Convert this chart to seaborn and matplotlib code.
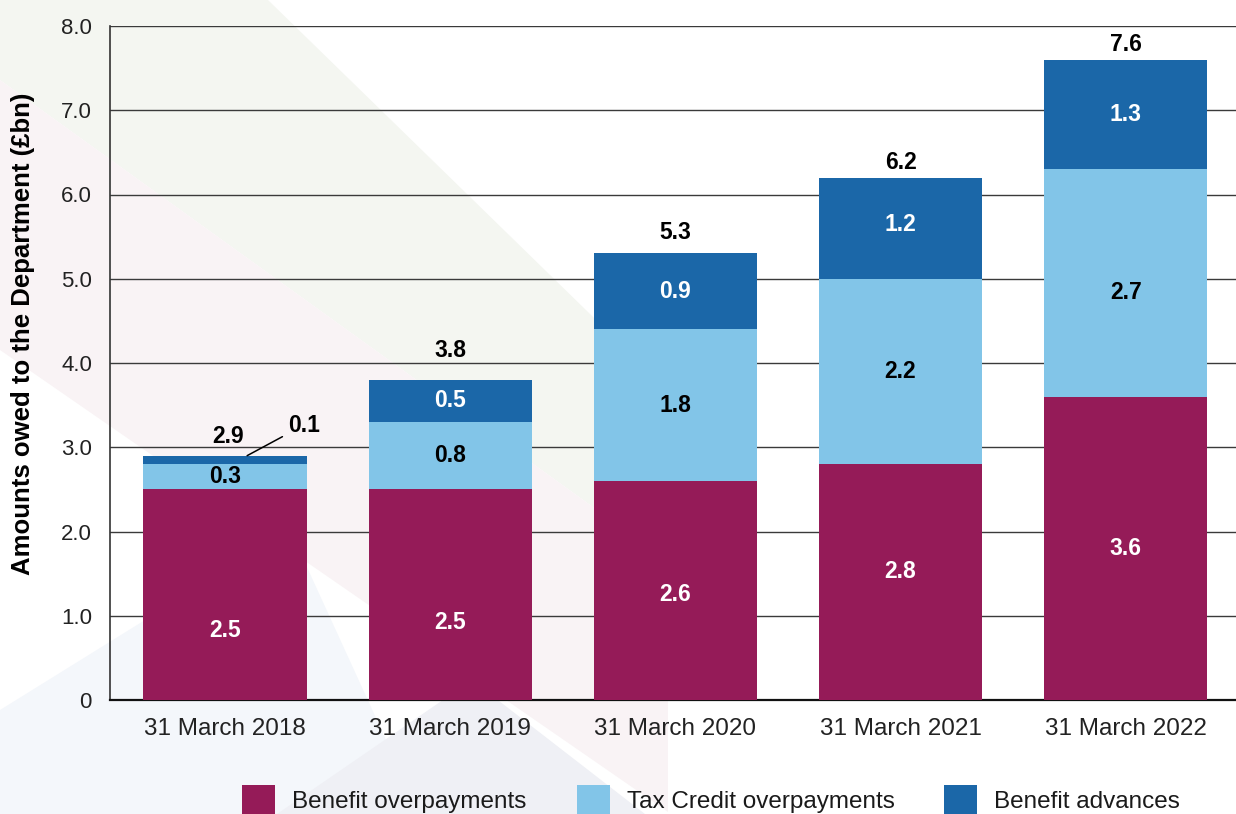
import matplotlib
matplotlib.use("Agg")
import matplotlib.pyplot as plt
from matplotlib.patches import Polygon, Patch
from matplotlib.transforms import Affine2D
import seaborn as sns
import pandas as pd
import numpy as np

# Amounts owed to the Department, £bn
dates = ["31 March 2018", "31 March 2019", "31 March 2020", "31 March 2021", "31 March 2022"]
benefit_overpayments = [2.5, 2.5, 2.6, 2.8, 3.6]
tax_credit_overpayments = [0.3, 0.8, 1.8, 2.2, 2.7]
benefit_advances = [0.1, 0.5, 0.9, 1.2, 1.3]
totals = [2.9, 3.8, 5.3, 6.2, 7.6]

series_names = ["Benefit overpayments", "Tax Credit overpayments", "Benefit advances"]
colors = ["#951b58", "#82c5e8", "#1b67a8"]
label_colors = ["white", "black", "white"]

# label placement tweaks, in pixels (positive = up)
total_offsets = [19, 29, 21, 15, 15]
segment_nudges = {(0, 0): -36, (1, 0): -28, (2, 0): -4, (3, 0): 11, (4, 1): -10, (3, 2): 4}

sns.set_theme(style="white")
FONT = ["Liberation Sans", "DejaVu Sans"]
plt.rcParams["font.family"] = FONT

W, H = 1236, 814
fig = plt.figure(figsize=(W / 100, H / 100), dpi=100)
fig.patch.set_facecolor("white")

# faint decorative background shapes (figure pixel coordinates, origin top-left)
px = Affine2D().scale(1 / W, -1 / H).translate(0, 1) + fig.transFigure
shapes = [
    ([(0, 0), (268, 0), (668, 390), (668, 561), (0, 80)], "#f4f6f1"),
    ([(0, 80), (668, 561), (668, 812), (0, 350)], "#f9f3f5"),
    ([(0, 710), (290, 530), (420, 814), (0, 814)], "#f4f7fb"),
    ([(277, 814), (472, 680), (645, 814)], "#eff0f5"),
]
for verts, c in shapes:
    fig.add_artist(Polygon(verts, closed=True, transform=px, facecolor=c,
                           edgecolor="none", zorder=-10))

ax = fig.add_axes([110 / W, 114 / H, (W - 110) / W, 674 / H])
ax.patch.set_alpha(0)

df = pd.DataFrame({
    "date": dates,
    "bo": benefit_overpayments,
    "tc": tax_credit_overpayments,
    "ba": benefit_advances,
})
df["lvl1"] = df["bo"]
df["lvl2"] = df["bo"] + df["tc"]
df["lvl3"] = df["lvl2"] + df["ba"]

bar_w = 0.725
for col, c in zip(["lvl3", "lvl2", "lvl1"], colors[::-1]):
    sns.barplot(data=df, x="date", y=col, color=c, width=bar_w, ax=ax,
                saturation=1, edgecolor="none", linewidth=0, zorder=3)

ax.set_ylim(0, 8)
ax.set_xlim(-0.511, 4.49)
ax.set_yticks(np.arange(0, 9, 1))
ax.set_yticklabels(["0"] + [f"{v:.1f}" for v in range(1, 9)], fontsize=16, color="#222222")
ax.tick_params(axis="x", labelsize=17.5, colors="#222222", pad=13, length=0)
ax.tick_params(axis="y", pad=13, length=0)
ax.set_xlabel("")
ax.set_ylabel("Amounts owed to the Department (£bn)", fontsize=18.5, fontweight="bold",
              color="black")
ax.yaxis.set_label_coords(-0.067, 0.543)
ax.yaxis.grid(True, color="#3a3a3a", linewidth=1.0, zorder=0)
ax.set_axisbelow(True)
for s in ["top", "right"]:
    ax.spines[s].set_visible(False)
ax.spines["left"].set_color("#333333")
ax.spines["left"].set_linewidth(1.2)
ax.spines["bottom"].set_color("#111111")
ax.spines["bottom"].set_linewidth(1.6)

# segment labels
fs = 16.5
for i in range(len(dates)):
    base = 0
    for j, v in enumerate([benefit_overpayments[i], tax_credit_overpayments[i], benefit_advances[i]]):
        if not (i == 0 and j == 2):
            ax.annotate(f"{v:.1f}", xy=(i, base + v / 2), xytext=(0, segment_nudges.get((i, j), 0)),
                        textcoords="offset pixels", ha="center", va="center",
                        fontsize=fs, fontweight="bold", color=label_colors[j], zorder=5)
        base += v
    dx = 3 if i == 0 else 0
    ax.annotate(f"{totals[i]:.1f}", xy=(i, totals[i]), xytext=(dx, total_offsets[i]),
                textcoords="offset pixels", ha="center", va="center",
                fontsize=fs, fontweight="bold", color="black", zorder=5)

# callout for the thin 2018 benefit advances segment
ax.annotate(f"{benefit_advances[0]:.1f}",
            xy=(0.098, totals[0]),
            xytext=(0.351, 3.264), ha="center", va="center",
            fontsize=fs, fontweight="bold", color="black",
            arrowprops=dict(arrowstyle="-", color="black", lw=1.1,
                            shrinkA=2, shrinkB=0), zorder=5)

# legend entries, each placed on its own
legend_x = [242, 577, 944]
for name, c, lx in zip(series_names, colors, legend_x):
    leg = fig.legend([Patch(facecolor=c, edgecolor="none")], [name], loc="center left",
                     bbox_to_anchor=(lx / W, 1 - 800 / H), frameon=False, fontsize=17.5,
                     handlelength=1.36, handleheight=1.56, handletextpad=0.7,
                     borderpad=0, borderaxespad=0)
    for t in leg.get_texts():
        t.set_color("#1a1a1a")

fig.savefig("out.png", dpi=100)
